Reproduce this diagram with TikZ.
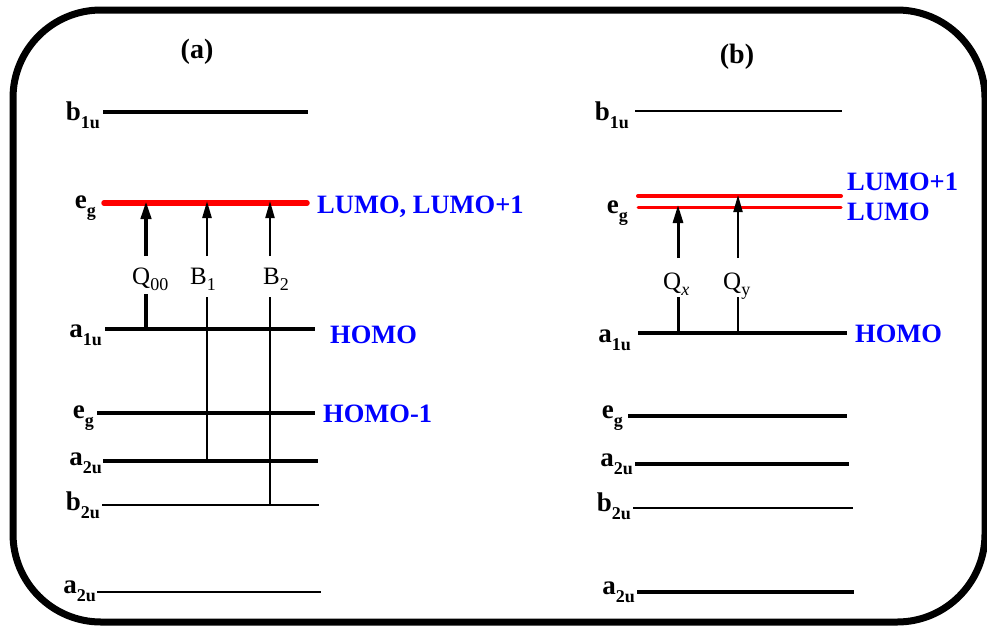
\documentclass[tikz,border=0pt]{standalone}
\usepackage{fontspec}
\setmainfont{Liberation Serif}
\usetikzlibrary{arrows.meta}
\definecolor{lvred}{RGB}{255,0,0}
\definecolor{lvblue}{RGB}{0,0,255}
\newcommand\lvname[2]{\textbf{#1\raisebox{-0.3em}{\fontsize{18}{18}\selectfont #2}}}
\newcommand\trname[2]{#1\raisebox{-0.25em}{\fontsize{18}{18}\selectfont #2}}
\begin{document}
\begin{tikzpicture}[x=1pt,y=-1pt,
  lvl/.style={line width=4pt},
  thicklvl/.style={line width=4.5pt},
  thinlvl/.style={line width=2.5pt},
  redlvl/.style={draw=lvred,line cap=round},
  lvlab/.style={anchor=base east,inner sep=0pt,font=\fontsize{27}{27}\selectfont},
  orb/.style={anchor=base west,inner sep=0pt,text=lvblue,font=\fontsize{26.5}{26.5}\selectfont\bfseries},
  trlab/.style={anchor=base west,inner sep=0pt,font=\fontsize{25}{25}\selectfont},
  ttl/.style={inner sep=0pt,font=\fontsize{28}{28}\selectfont\bfseries},
  exc/.style={-{Triangle[length=18pt,width=10pt]}},
  excthin/.style={-{Triangle[length=17pt,width=9pt]}},
]
\useasboundingbox (0,0) rectangle (987,630);
\draw[line width=7pt,rounded corners=88pt] (13,10) rectangle (985,622);

% titles
\node[ttl] (ta) at (197,52) {(a)};
\node[ttl] (tb) at (737,57) {(b)};

% ---------------- panel (a) levels ----------------
\coordinate (a1l) at (103,112); \coordinate (a1r) at (308,112);
\coordinate (a2l) at (104,203); \coordinate (a2r) at (307,203);
\coordinate (a3l) at (105,329); \coordinate (a3r) at (315,329);
\coordinate (a4l) at (97,413);  \coordinate (a4r) at (315,413);
\coordinate (a5l) at (103,461); \coordinate (a5r) at (318,461);
\coordinate (a6l) at (102,505); \coordinate (a6r) at (319,505);
\coordinate (a7l) at (97,592);  \coordinate (a7r) at (321,592);
\draw[lvl] (a1l) -- (a1r);
\draw[redlvl,line width=5.5pt] (a2l) -- (a2r);
\draw[lvl] (a3l) -- (a3r);
\draw[lvl] (a4l) -- (a4r);
\draw[thicklvl] (a5l) -- (a5r);
\draw[thinlvl] (a6l) -- (a6r);
\draw[thinlvl] (a7l) -- (a7r);

\node[lvlab] (la1) at (100,120) {\lvname{b}{1u}};
\node[lvlab] (la2) at (96,208) {\lvname{e}{g}};
\node[lvlab] (la3) at (102,337) {\lvname{a}{1u}};
\node[lvlab] (la4) at (94,418) {\lvname{e}{g}};
\node[lvlab] (la5) at (102,465) {\lvname{a}{2u}};
\node[lvlab] (la6) at (100,510) {\lvname{b}{2u}};
\node[lvlab] (la7) at (96,593) {\lvname{a}{2u}};

\node[orb] (oa2) at (317,213) {LUMO, LUMO+1};
\node[orb] (oa3) at (330,343) {HOMO};
\node[orb] (oa4) at (323,422) {HOMO-1};

% transitions (a)
\node[trlab] (tq00) at (132,284) {\trname{Q}{00}};
\node[trlab] (tb1) at (190,284) {\trname{B}{1}};
\node[trlab] (tb2) at (263,284) {\trname{B}{2}};
\coordinate (q0s) at (146,329); \coordinate (q0m) at (146,294);
\coordinate (q0n) at (146,256); \coordinate (q0e) at (146,201);
\coordinate (b1s) at (207,461); \coordinate (b1m) at (207,297);
\coordinate (b1n) at (207,256); \coordinate (b1e) at (207,201);
\coordinate (b2s) at (270,505); \coordinate (b2m) at (270,297);
\coordinate (b2n) at (270,256); \coordinate (b2e) at (270,201);
\draw[line width=4pt] (q0s) -- (q0m);
\draw[line width=4pt,exc] (q0n) -- (q0e);
\draw[line width=2.5pt] (b1s) -- (b1m);
\draw[line width=2.5pt,excthin] (b1n) -- (b1e);
\draw[line width=2pt] (b2s) -- (b2m);
\draw[line width=2pt,excthin] (b2n) -- (b2e);

% ---------------- panel (b) levels ----------------
\coordinate (b1l) at (635,111); \coordinate (b1r) at (842,111);
\coordinate (bLl) at (638,196); \coordinate (bLr) at (841,196);
\coordinate (bMl) at (638,207); \coordinate (bMr) at (841,207);
\coordinate (b3l) at (638,333); \coordinate (b3r) at (847,333);
\coordinate (b4l) at (628,416); \coordinate (b4r) at (847,416);
\coordinate (b5l) at (635,464); \coordinate (b5r) at (849,464);
\coordinate (b6l) at (633,508); \coordinate (b6r) at (853,508);
\coordinate (b7l) at (637,592); \coordinate (b7r) at (854,592);
\draw[thinlvl] (b1l) -- (b1r);
\draw[redlvl,line width=4pt] (bLl) -- (bLr);
\draw[redlvl,line width=3pt] (bMl) -- (bMr);
\draw[lvl] (b3l) -- (b3r);
\draw[lvl] (b4l) -- (b4r);
\draw[thicklvl] (b5l) -- (b5r);
\draw[thinlvl] (b6l) -- (b6r);
\draw[thicklvl] (b7l) -- (b7r);

\node[lvlab] (lb1) at (629,120) {\lvname{b}{1u}};
\node[lvlab] (lb2) at (628,213) {\lvname{e}{g}};
\node[lvlab] (lb3) at (631,342) {\lvname{a}{1u}};
\node[lvlab] (lb4) at (623,418) {\lvname{e}{g}};
\node[lvlab] (lb5) at (633,466) {\lvname{a}{2u}};
\node[lvlab] (lb6) at (631,511) {\lvname{b}{2u}};
\node[lvlab] (lb7) at (635,594) {\lvname{a}{2u}};

\node[orb] (obL) at (847,190) {LUMO+1};
\node[orb] (obM) at (847,220) {LUMO};
\node[orb] (ob3) at (855,342) {HOMO};

% transitions (b)
\node[trlab] (tqx) at (663,289) {\trname{Q}{\itshape x}};
\node[trlab] (tqy) at (723,289) {\trname{Q}{y}};
\coordinate (qxs) at (678,333); \coordinate (qxm) at (678,297);
\coordinate (qxn) at (678,258); \coordinate (qxe) at (678,205);
\coordinate (qys) at (738,333); \coordinate (qym) at (738,297);
\coordinate (qyn) at (738,258); \coordinate (qye) at (738,195);
\draw[line width=3pt] (qxs) -- (qxm);
\draw[line width=3pt,exc] (qxn) -- (qxe);
\draw[line width=2pt] (qys) -- (qym);
\draw[line width=2pt,excthin] (qyn) -- (qye);
\end{tikzpicture}
\end{document}
